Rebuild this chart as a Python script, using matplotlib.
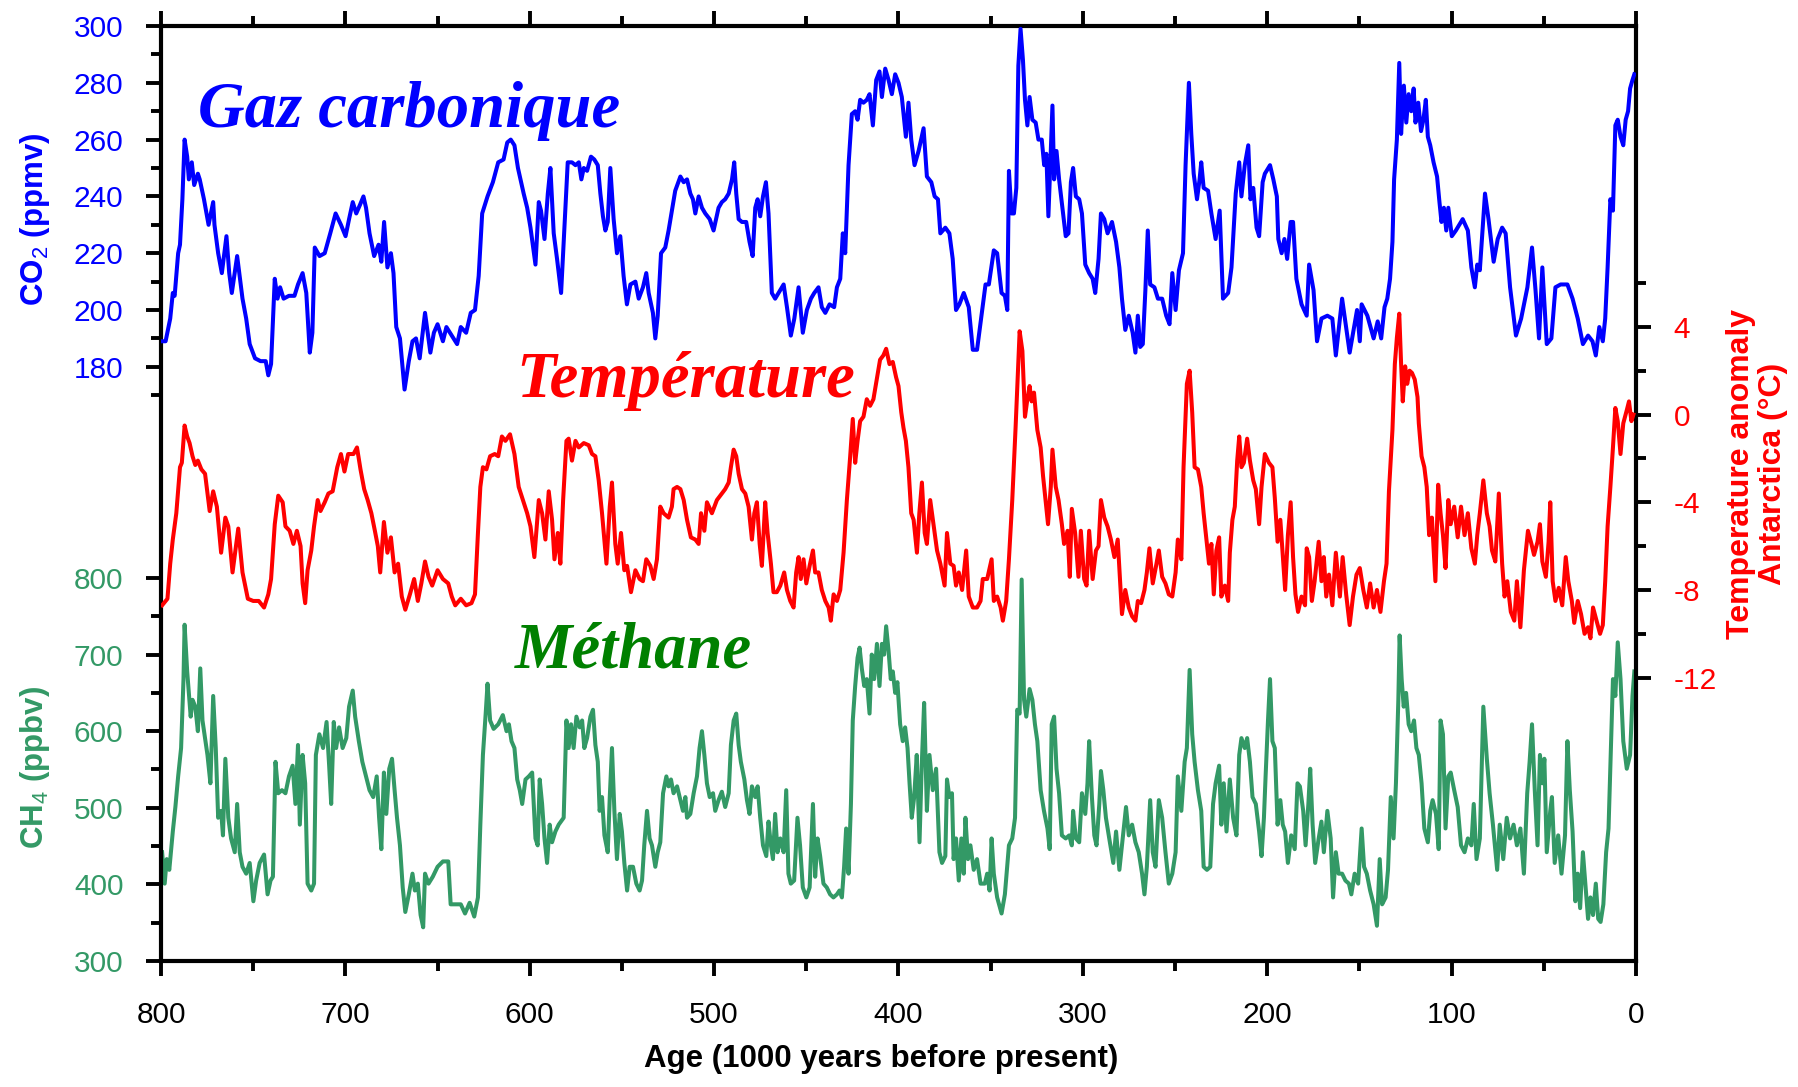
import numpy as np
import matplotlib
matplotlib.use("Agg")
import matplotlib.pyplot as plt
from matplotlib.ticker import FixedLocator

plt.rcParams['font.family'] = ['Liberation Sans', 'DejaVu Sans']
plt.rcParams['mathtext.fontset'] = 'custom'
plt.rcParams['mathtext.rm'] = 'Liberation Sans'
plt.rcParams['mathtext.bf'] = 'Liberation Sans:bold'
plt.rcParams['axes.unicode_minus'] = False

# (age in kyr BP, CO2 ppmv)
co2 = [
    (799.4, 189), (797.5, 189), (795, 197), (793.6, 206), (792.6, 205), (790.7, 220), (789.7, 223), (788.4, 239),
    (787.2, 260), (785.8, 254), (784.9, 246), (783.3, 252), (782, 244), (780, 248), (779, 246), (776.7, 239),
    (774.2, 230), (771.7, 238), (771, 230), (769, 220), (767, 213), (764.5, 226), (763, 213), (761.6, 206),
    (758.7, 219), (755.8, 204), (753.8, 197), (751.9, 188), (749, 183), (746, 182), (743.2, 182), (741.8, 177),
    (740.3, 181), (738.3, 211), (736.8, 204), (735.4, 208), (733.5, 204), (730.6, 205), (727.6, 205), (725.7, 209),
    (723.2, 213), (721.2, 206), (719.3, 185), (717.9, 192), (716.6, 222), (714, 219), (711.2, 220), (708.2, 227),
    (705.3, 234), (702.4, 230), (699.9, 226), (698, 232), (696, 238), (694.1, 234), (692.1, 237), (690.2, 240),
    (688.8, 236), (686.9, 227), (684.4, 219), (682, 223), (680.5, 217), (679, 231), (677.2, 215), (675.3, 220),
    (673.9, 213), (672.4, 194), (670.4, 190), (667.9, 172), (665.6, 182), (663.6, 189), (661.7, 190), (659.7, 183),
    (656.8, 199), (653.9, 185), (652, 192), (650, 195), (647.1, 189), (645.2, 194), (642.3, 191), (639.4, 188),
    (637.4, 194), (634.5, 192), (632, 199), (629.7, 200), (627.7, 212), (625.8, 234), (622.9, 240), (620, 245),
    (617.1, 252), (614.2, 253), (612.2, 259), (610.3, 260), (608.3, 258), (606.4, 250), (603.3, 241), (601.4, 236),
    (599.6, 229), (596.9, 216), (595.1, 238), (593.9, 235), (592, 225), (590.2, 241), (588.8, 250), (587, 227),
    (585.2, 218), (583, 206), (581.2, 229), (579.4, 252), (577.1, 252), (575.2, 251), (573.4, 252), (572, 246),
    (570.7, 250), (568.9, 249), (566.8, 254), (565, 253), (563.1, 251), (561.7, 241), (560.3, 233), (559, 228),
    (557.7, 231), (556.3, 250), (554.5, 232), (552.7, 220), (550.9, 226), (549.1, 212), (547.3, 202), (545.4, 209),
    (542.7, 210), (540.9, 204), (538.6, 208), (536.8, 213), (535.5, 206), (533.2, 199), (531.9, 190), (530.6, 198),
    (528.8, 220), (526.5, 222), (524.7, 228), (522.9, 235), (521.1, 242), (518.3, 247), (516.5, 245), (514.7, 246),
    (512.9, 241), (511.5, 239), (510.2, 234), (508.4, 240), (506.6, 236), (504.8, 234), (502.4, 232), (500.3, 228),
    (497.6, 236), (495.8, 238), (494, 239), (492.1, 241), (490.3, 246), (489.1, 252), (488, 241), (486.7, 232),
    (484.9, 231), (482.6, 231), (480.8, 224), (479.1, 219), (477.7, 236), (476.4, 239), (475, 233), (473.5, 240),
    (471.9, 245), (470.5, 234), (468.7, 206), (466.9, 204), (464.1, 207), (462.3, 209), (460.5, 201), (458.4, 191),
    (456.5, 197), (454.2, 208), (451.9, 192), (449.7, 200), (447.5, 204), (445.7, 206), (443.4, 208), (441.6, 201),
    (439.7, 199), (437.4, 202), (434.9, 201), (433.4, 208), (431.6, 211), (430.2, 227), (428.9, 220), (427.1, 251),
    (425.3, 269), (423.5, 270), (422.2, 267), (420.8, 274), (419, 273), (417.2, 274), (415.7, 276), (413.9, 265),
    (412.1, 281), (410.3, 284), (409, 275), (407.2, 285), (405.4, 281), (403.6, 276), (401.8, 283), (400, 280),
    (398.2, 275), (396, 261), (394.6, 273), (393.1, 260), (391.3, 251), (389.1, 256), (386.4, 264), (384.6, 247),
    (382.2, 245), (380.4, 240), (378.6, 239), (377.3, 227), (374.6, 229), (372.4, 227), (370.6, 218), (368.8, 200),
    (367, 202), (364.6, 206), (361.9, 201), (359.7, 186), (357.4, 186), (355, 198), (352.8, 209), (351, 209),
    (348.3, 221), (346.5, 220), (344.1, 206), (342.3, 205), (341, 200), (340.1, 249), (338.7, 234), (337.4, 234),
    (336.1, 243), (335, 286), (333.8, 299), (332.5, 288), (331.4, 274), (330.1, 265), (328.9, 275), (327.4, 267),
    (325.6, 266), (324.1, 260), (322.3, 260), (321, 251), (319.8, 255), (318.7, 233), (317.4, 256), (316.5, 272),
    (315.6, 246), (314.3, 256), (312.9, 246), (311.1, 236), (309.3, 226), (307.8, 227), (306.5, 245), (305.3, 250),
    (303.8, 240), (302, 239), (300.5, 234), (298.7, 216), (296.6, 213), (294.7, 211), (293.3, 206), (291.5, 218),
    (290.2, 234), (288.4, 232), (286.6, 227), (284.2, 231), (282, 224), (280.2, 215), (278.8, 204), (277, 193),
    (275.1, 198), (273, 192), (271.5, 185), (270.2, 198), (268.9, 187), (267.5, 188), (266.1, 207), (264.8, 228),
    (263.5, 209), (261.2, 208), (259.3, 204), (257, 204), (254.8, 198), (253, 195), (251.5, 213), (249.7, 200),
    (247.9, 214), (245.7, 220), (244.3, 251), (242.5, 280), (241.2, 262), (239.9, 248), (238.1, 239), (236.7, 246),
    (235.8, 252), (234.5, 243), (232.1, 242), (230.3, 234), (228, 225), (225.8, 235), (224, 204), (221.2, 206),
    (219.4, 215), (217.1, 241), (215.2, 252), (214, 240), (212.2, 251), (210.3, 258), (209.1, 239), (207.6, 243),
    (205.8, 229), (204.4, 226), (202.5, 245), (201.3, 248), (198.5, 251), (196.7, 246), (194.8, 240), (194, 225),
    (192.2, 220), (190.7, 225), (189.2, 218), (187.3, 231), (186, 231), (184.2, 211), (181.4, 202), (178.6, 198),
    (177.3, 216), (174.9, 207), (173, 189), (170.6, 197), (167.4, 198), (164.7, 197), (162.8, 184), (159.4, 204),
    (155.3, 185), (151.3, 200), (149.8, 189), (148.8, 202), (145.7, 198), (142.3, 190), (140.1, 196), (138.2, 190),
    (136.4, 201), (134.9, 204), (133.4, 211), (132.1, 224), (131.2, 246), (129.7, 260), (128.4, 287), (127.4, 262),
    (125.9, 279), (124.6, 266), (123.3, 276), (121.9, 270), (120.6, 278), (119.6, 266), (118.1, 273), (116.6, 263),
    (115.3, 267), (114, 274), (112.9, 261), (111.6, 258), (109.8, 252), (107.9, 247), (106.6, 238), (105.5, 231),
    (104.2, 236), (102.9, 228), (101.8, 236), (99.9, 226), (97.7, 228), (94, 232), (91.2, 228), (89.3, 215),
    (87.4, 208), (86.1, 216), (84.7, 214), (81.9, 241), (80, 232), (77.2, 217), (75, 225), (72.6, 229),
    (70.7, 227), (68.3, 208), (65.1, 191), (62.3, 197), (58.9, 208), (56.4, 222), (54.5, 207), (52.6, 190),
    (50.8, 215), (48.4, 188), (45.9, 190), (43.7, 208), (40.9, 209), (37.2, 209), (34.4, 204), (31.6, 197),
    (28.8, 188), (26, 191), (23.6, 189), (21.8, 184), (19.9, 194), (18, 189), (16.7, 197), (15.4, 215),
    (13.9, 239), (12.5, 235), (11.2, 265), (9.9, 267), (8.4, 261), (6.9, 258), (5.6, 267), (4.3, 270),
    (3.2, 278), (1.9, 281), (0.9, 283),
]

# (age in kyr BP, temperature anomaly in degC)
temp = [
    (799.4, -8.7), (796.5, -8.4), (795, -6.8), (793.6, -5.7), (791.7, -4.5), (789.7, -2.4), (788.7, -2.2), (787.2, -0.5),
    (785.8, -1.0), (784.5, -1.3), (782.9, -1.9), (781.4, -2.3), (780, -2.1), (778.1, -2.5), (776.1, -2.7), (773.6, -4.4),
    (771.7, -3.5), (769.7, -4.2), (767.4, -6.3), (765.1, -4.7), (763.5, -5.1), (761.2, -7.2), (758.1, -5.2), (755.8, -7.2),
    (752.9, -8.4), (750, -8.5), (747, -8.5), (744.1, -8.8), (741.8, -8.2), (740.3, -7.5), (738.3, -5.0), (736.4, -3.7),
    (734, -4.0), (732.5, -5.1), (730.2, -5.3), (728.2, -5.9), (726.3, -5.3), (724.3, -6.0), (723.2, -7.7), (721.8, -8.6),
    (720.5, -7.1), (718.5, -6.2), (717, -5.1), (715, -3.9), (713.5, -4.4), (711.2, -4.0), (709.2, -3.6), (706.9, -3.5),
    (704.4, -2.4), (702.4, -1.8), (700.5, -2.6), (698.5, -1.8), (695.6, -1.8), (693.7, -1.5), (691.8, -2.5), (689.8, -3.4),
    (687.9, -3.9), (685.9, -4.5), (684, -5.3), (682.4, -6.0), (681.1, -7.2), (679.1, -4.9), (677.2, -6.3), (675.3, -5.6),
    (673.3, -7.2), (671.4, -6.8), (669.4, -8.3), (667.5, -8.9), (665, -8.2), (662.7, -7.5), (660.7, -8.5), (658.8, -7.7),
    (656.8, -6.7), (654.9, -7.4), (652.9, -7.8), (650, -7.1), (647.1, -7.5), (644.2, -7.7), (642.3, -8.3), (640.4, -8.7),
    (637.4, -8.4), (634.5, -8.7), (631.6, -8.6), (629.7, -8.2), (628.1, -5.4), (626.8, -3.3), (625.4, -2.4), (623.5, -2.5),
    (621.5, -1.9), (619, -1.8), (617.1, -1.9), (615.1, -1.0), (613.2, -1.2), (610.7, -0.9), (608.3, -1.8), (606, -3.3),
    (603.3, -4.0), (601.4, -4.5), (599.6, -5.1), (597.5, -6.5), (595.1, -3.9), (593.3, -4.5), (591.5, -5.7), (589.7, -3.5),
    (587.9, -4.8), (586.6, -6.6), (584.8, -5.4), (583.4, -6.8), (581.9, -3.9), (580.1, -1.2), (578.9, -1.1), (577.1, -2.1),
    (575.2, -1.2), (573.4, -1.5), (570.7, -1.3), (568, -1.4), (566.2, -1.8), (564.4, -1.9), (562.6, -3.0), (560.8, -4.5),
    (558.4, -6.8), (556.6, -4.2), (555.4, -3.1), (553.6, -5.9), (552.3, -6.8), (550.5, -5.4), (548.7, -7.1), (547.2, -6.9),
    (545.1, -8.1), (542.7, -7.1), (540.4, -7.5), (538.6, -7.6), (536.8, -6.6), (534.6, -6.9), (532.8, -7.5), (531, -6.6),
    (529.2, -4.2), (527.4, -4.5), (524.7, -4.7), (522.9, -4.2), (522, -3.4), (520.1, -3.3), (518.3, -3.4), (516.5, -3.9),
    (514.7, -4.8), (512.6, -5.6), (510.2, -5.7), (508.4, -5.9), (507.1, -4.5), (505.3, -5.3), (503.9, -4.0), (501.2, -4.5),
    (498.5, -3.9), (495.8, -3.6), (494, -3.4), (492.1, -3.1), (490.9, -2.4), (489.4, -1.6), (488, -1.9), (486.7, -2.7),
    (484.9, -3.4), (483.1, -3.6), (481.3, -4.2), (479.5, -5.7), (478.2, -4.5), (476.8, -4.0), (475.3, -5.9), (474.1, -6.9),
    (472.3, -4.0), (471, -5.4), (469.2, -6.8), (467.8, -8.1), (466, -8.1), (464.1, -7.8), (462, -7.2), (460.5, -8.0),
    (458.7, -8.5), (456.9, -8.8), (455.5, -7.2), (454.2, -6.5), (453, -7.5), (451.5, -6.6), (450, -7.7), (448.2, -6.9),
    (446.4, -6.2), (445.2, -7.2), (443.4, -7.2), (441.6, -8.0), (439.7, -8.5), (437.9, -8.8), (436.7, -9.4), (435.2, -8.2),
    (433.4, -8.5), (431.6, -8.0), (429.8, -6.3), (428, -3.9), (426.2, -1.9), (424.8, -0.2), (423.5, -2.2), (422.2, -1.2),
    (420.8, -0.3), (419, -0.1), (417.2, 0.7), (415.4, 0.4), (413.6, 0.7), (411.8, 1.6), (410, 2.5), (408.2, 2.7),
    (406.7, 3.0), (404.9, 2.3), (403.1, 2.4), (401.3, 1.7), (400, 1.3), (398.5, 0.1), (397.3, -0.6), (396, -1.2),
    (394.6, -2.4), (393.1, -4.5), (391.8, -4.8), (390, -6.3), (388.7, -4.5), (387.3, -3.1), (385.8, -5.4), (384.6, -5.9),
    (382.8, -3.9), (380.9, -5.1), (379.1, -6.2), (377.3, -6.8), (375, -7.8), (373.7, -5.4), (371.9, -6.8), (370.1, -6.9),
    (368.8, -7.8), (367.3, -7.2), (365.5, -8.0), (363.3, -6.2), (361.9, -8.3), (359.7, -8.8), (357.4, -8.8), (355.5, -8.5),
    (354.3, -7.5), (351.9, -7.5), (349.5, -6.6), (348.3, -8.5), (346.5, -8.3), (344.6, -8.8), (343.4, -9.4), (341.6, -8.5),
    (340.1, -6.6), (338.3, -3.9), (336.5, -0.6), (334.3, 3.8), (332.8, 2.9), (331.4, -0.1), (330.1, 0.7), (328.9, 1.3),
    (327.8, 0.6), (326.5, 1.0), (324.7, -0.7), (322.9, -1.5), (321.6, -2.8), (320.1, -4.0), (318.9, -5.0), (317.4, -3.3),
    (316.5, -1.6), (314.7, -3.3), (313.2, -3.9), (311.4, -5.0), (310.2, -5.9), (308.3, -5.3), (307.1, -7.4), (306, -4.3),
    (304.2, -5.4), (302.4, -7.4), (301.1, -5.3), (299.3, -7.5), (298, -7.8), (296.6, -5.3), (294.7, -7.5), (292.9, -6.2),
    (291.5, -6.0), (290.2, -3.9), (288.4, -4.7), (286.6, -5.1), (284.8, -5.7), (282.9, -6.5), (281.1, -5.7), (279.9, -7.5),
    (278.8, -9.1), (277, -8.0), (275.1, -8.8), (273.3, -9.2), (271.5, -9.4), (270.2, -8.5), (268.4, -8.6), (266.6, -8.0),
    (265.3, -7.2), (263.9, -6.1), (262.1, -7.7), (260.3, -6.9), (258.8, -6.2), (257, -7.4), (255.2, -7.7), (253.4, -8.2),
    (251.5, -8.3), (249.7, -7.2), (248.5, -5.7), (246.6, -6.6), (245.4, -2.4), (243.6, 1.4), (242.1, 2.0), (240.7, 0.1),
    (239.4, -2.4), (237.6, -2.5), (235.8, -3.3), (234.5, -4.5), (233, -5.7), (231.6, -6.8), (230.3, -5.9), (229, -8.2),
    (227.6, -6.2), (226.1, -5.6), (224.9, -8.3), (223, -7.8), (221.2, -8.5), (220.3, -6.3), (218.9, -4.8), (217.6, -4.2),
    (216.3, -2.1), (215.2, -1.0), (214, -2.4), (212.7, -2.2), (210.9, -1.1), (209.4, -2.1), (207.6, -3.0), (206.2, -3.4),
    (204.4, -5.0), (203.1, -3.3), (201.3, -1.8), (199.1, -2.2), (197.2, -2.4), (195.9, -3.8), (194.4, -5.8), (192.9, -4.8),
    (191.6, -6.4), (190.3, -8.0), (188.8, -5.5), (187.3, -4.0), (186, -6.5), (184.7, -8.2), (183.3, -9.0), (181.4, -8.3),
    (179.5, -8.7), (178.6, -6.1), (177.3, -6.5), (175.8, -8.5), (174.3, -7.6), (172.1, -5.8), (170.6, -7.6), (169.3, -6.5),
    (168, -8.3), (166.5, -7.3), (164.7, -8.7), (162.8, -6.3), (160.6, -8.3), (159.1, -6.5), (157.2, -8.2), (155.3, -9.6),
    (153.5, -8.3), (151.6, -7.3), (149.8, -7.0), (147.9, -8.0), (146, -8.8), (144.2, -7.7), (142.3, -8.8), (140.5, -8.0),
    (138.6, -9.0), (136.7, -7.6), (135.3, -6.8), (134, -3.5), (132.1, -0.7), (130.8, 2.3), (129.7, 3.5), (128.4, 4.6),
    (127.4, 2.3), (126.5, 0.6), (125.2, 2.2), (124.1, 1.4), (122.8, 2.0), (121.5, 1.9), (120, 1.6), (118.5, 0.8),
    (117.8, -0.4), (116.3, -1.9), (114.8, -2.4), (113.5, -3.3), (112.2, -5.5), (110.7, -4.7), (108.8, -7.6), (107.3, -3.2),
    (106, -4.5), (104.7, -5.5), (103.3, -7.0), (101.8, -3.9), (100.5, -5.0), (98.6, -4.2), (96.7, -5.6), (94.9, -4.2),
    (93, -5.5), (91.2, -4.5), (89.3, -6.1), (87.4, -6.8), (86.1, -5.5), (84.7, -4.5), (82.8, -3.0), (80.9, -4.5),
    (79.4, -5.1), (78.1, -6.2), (76.3, -6.7), (74.4, -3.6), (72.6, -6.8), (71.3, -8.3), (69.8, -7.6), (67.9, -9.0),
    (66, -9.4), (64.6, -7.6), (62.7, -9.7), (60.8, -7.1), (58.6, -5.3), (56.7, -5.9), (55.3, -6.4), (53.4, -5.8),
    (52.1, -5.0), (50.8, -6.7), (48.9, -7.4), (47.4, -5.8), (46.5, -4.0), (45.2, -7.6), (43.7, -8.5), (41.9, -7.9),
    (40, -8.7), (38.1, -6.5), (36.7, -7.6), (34.8, -8.5), (33.5, -9.5), (31.6, -8.5), (29.8, -9.1), (27.9, -10.0),
    (26, -9.7), (24.7, -10.2), (23.3, -8.8), (21.4, -9.4), (19.5, -10.0), (18, -9.6), (16.7, -7.6), (15.4, -5.1),
    (13.9, -3.3), (12.5, -1.5), (11.2, 0.3), (9.9, -0.3), (8.4, -1.8), (6.9, -0.4), (5, 0.2), (3.8, 0.6),
    (2.5, -0.3), (1.4, 0.0),
]

# (age in kyr BP, CH4 ppbv)
ch4 = [
    (799.4, 442), (798, 401), (796.9, 433), (795.5, 419), (793.6, 469), (792.2, 501), (790.7, 541), (789.1, 578),
    (787.8, 668), (787.2, 739), (785.8, 678), (784.9, 650), (783.9, 619), (782.9, 641), (781.4, 632), (780, 600),
    (778.7, 682), (777.5, 614), (776.1, 591), (774.8, 569), (773.2, 532), (771.7, 646), (770.3, 578), (769, 487),
    (767.4, 496), (766.4, 464), (765.1, 564), (763.5, 487), (762, 460), (760, 442), (758.7, 505), (757.3, 442),
    (755.8, 423), (753.8, 414), (751.9, 428), (749.9, 378), (748.4, 405), (746.5, 428), (744.1, 439), (742.2, 387),
    (740.6, 405), (739.3, 410), (737.9, 560), (736.4, 519), (734.4, 523), (732.5, 519), (730.6, 541), (728.6, 555),
    (727.1, 505), (725.7, 582), (724.7, 478), (723.2, 569), (721.8, 532), (720.5, 401), (718.5, 392), (717, 401),
    (716, 569), (714.1, 596), (712.1, 578), (710.2, 612), (708.8, 555), (707.7, 505), (706.3, 612), (705, 578),
    (703.4, 605), (701.5, 578), (699.5, 591), (698, 632), (696, 653), (694.7, 619), (692.7, 587), (690.8, 560),
    (688.8, 541), (686.9, 523), (684.9, 514), (683, 541), (681.7, 487), (680.5, 446), (679.1, 546), (677.8, 492),
    (676.2, 551), (674.7, 564), (673.3, 523), (672, 487), (670.4, 451), (668.9, 396), (667.5, 364), (665.6, 387),
    (663.6, 414), (662.3, 392), (660.7, 401), (659.2, 360), (657.8, 344), (656.8, 414), (654.9, 401), (652.6, 410),
    (650, 423), (647.1, 430), (644.2, 430), (642.9, 374), (640.4, 374), (637.4, 374), (635.1, 362), (632.6, 376),
    (630.1, 358), (628.1, 383), (626.8, 478), (625.4, 569), (623.9, 623), (622.9, 662), (621.5, 614), (619.6, 603),
    (617.1, 609), (614.6, 621), (612.6, 600), (611.3, 609), (609.9, 587), (608.3, 578), (606.8, 537), (605.4, 523),
    (604.1, 505), (602.3, 537), (600.5, 541), (598.7, 546), (596.9, 460), (595.7, 451), (594.6, 537), (593.3, 505),
    (592, 460), (590.6, 428), (589.2, 478), (587.9, 455), (586.1, 469), (584.3, 478), (581.6, 487), (580.1, 614),
    (578.9, 578), (577.6, 609), (576.2, 578), (574.7, 619), (572.9, 605), (571.6, 614), (570.4, 578), (568.9, 591),
    (567.1, 619), (565.7, 628), (564.4, 582), (563.1, 560), (562.1, 496), (560.8, 514), (559.5, 464), (557.7, 442),
    (556.6, 514), (555.4, 578), (554.1, 496), (552.7, 433), (551.2, 492), (550, 469), (548.7, 428), (547.2, 392),
    (545.8, 423), (544, 423), (542.2, 401), (540.4, 392), (539.1, 405), (537.9, 451), (536.4, 496), (535, 460),
    (533.7, 451), (531.9, 423), (530.6, 442), (529.2, 455), (527.7, 519), (525.9, 541), (524.7, 528), (523.4, 537),
    (522, 519), (520.1, 528), (518.3, 510), (516.9, 496), (515.6, 514), (514.7, 487), (512.9, 492), (511.1, 519),
    (509.3, 541), (507.9, 578), (506.6, 600), (505.3, 569), (503.9, 532), (502.4, 514), (500.6, 519), (499.4, 496),
    (497.6, 510), (495.8, 521), (494, 501), (492.1, 519), (490.9, 582), (489.4, 614), (488, 623), (486.7, 582),
    (485.5, 560), (483.6, 537), (482.2, 510), (480.8, 492), (479.5, 528), (477.7, 514), (476.4, 528), (475, 487),
    (473.5, 451), (471.7, 437), (470.5, 482), (469.2, 451), (468.1, 433), (466.9, 492), (465.6, 442), (464.1, 460),
    (462.3, 442), (460.9, 523), (459.7, 414), (458.4, 401), (456.6, 405), (454.8, 487), (453.4, 451), (451.9, 396),
    (450, 383), (448.2, 396), (446.4, 505), (445.2, 410), (443.9, 460), (442.5, 437), (440.7, 401), (438.9, 396),
    (437.1, 387), (435.3, 383), (433.4, 387), (432, 392), (430.7, 383), (429.5, 423), (428.4, 473), (427.1, 414),
    (425.8, 505), (424.8, 614), (423.5, 659), (422.2, 696), (421.1, 709), (419.9, 682), (418.6, 659), (417.2, 668),
    (415.7, 623), (414.5, 700), (413.2, 668), (411.7, 714), (410.3, 659), (409, 714), (407.8, 700), (406.7, 737),
    (405.4, 705), (404.2, 668), (403.1, 678), (401.8, 650), (400.6, 664), (399.1, 609), (397.7, 587), (396.4, 605),
    (395.1, 578), (394, 532), (392.8, 487), (391.5, 514), (390.1, 569), (388.6, 455), (387.4, 555), (386.1, 637),
    (384.6, 496), (383.2, 569), (381.4, 523), (379.6, 551), (377.8, 442), (376.4, 428), (374.6, 437), (373.7, 537),
    (372.4, 514), (371, 519), (370.1, 433), (368.8, 460), (367.3, 405), (365.9, 460), (364.6, 414), (363.7, 487),
    (362.3, 433), (361, 451), (359.2, 419), (357.4, 433), (355.5, 401), (353.2, 401), (351.9, 414), (350.6, 392),
    (349.5, 460), (348.3, 414), (346.5, 383), (344.1, 362), (342.3, 387), (340.1, 451), (338.3, 460), (336.8, 487),
    (335.6, 628), (334.3, 623), (333.2, 798), (331.9, 641), (330.7, 619), (328.9, 655), (327.4, 641), (326, 609),
    (324.7, 587), (322.9, 523), (321.1, 496), (319.2, 473), (318, 446), (316.9, 609), (315.6, 619), (314.3, 551),
    (312.9, 519), (311.4, 464), (309.3, 460), (307.4, 464), (306, 451), (305.3, 496), (303.8, 460), (302, 455),
    (300.5, 519), (298.7, 492), (297.5, 532), (296.6, 587), (295.1, 514), (293.8, 464), (292.6, 451), (291.1, 505),
    (290.2, 548), (288.9, 523), (287.5, 487), (285.7, 460), (283.5, 428), (282, 469), (280.2, 419), (278.4, 460),
    (276.6, 501), (275.1, 464), (273.3, 478), (271.5, 455), (269.7, 442), (267.9, 414), (266.6, 387), (265.3, 423),
    (263.5, 510), (262.1, 442), (260.6, 423), (258.8, 510), (257, 487), (255.2, 442), (253.4, 401), (251.5, 414),
    (249.7, 442), (248.5, 541), (246.6, 496), (244.8, 560), (243.6, 578), (242.1, 680), (240.7, 596), (239.4, 560),
    (237.6, 523), (235.8, 496), (234.5, 423), (232.7, 419), (230.9, 423), (229.4, 505), (228, 532), (226.1, 555),
    (224.9, 478), (223.6, 532), (222.1, 469), (220.3, 537), (218.5, 487), (216.7, 464), (215.2, 569), (214, 591),
    (212.2, 578), (210.9, 591), (209.4, 560), (208, 514), (206.2, 505), (204.4, 469), (203.1, 437), (201.8, 487),
    (200.9, 541), (199.6, 614), (198.5, 668), (197.2, 587), (195.9, 578), (194.4, 478), (192.9, 510), (191.6, 478),
    (190.3, 469), (188.8, 428), (187, 464), (185.1, 446), (183.6, 532), (182.3, 528), (180.5, 496), (179.2, 451),
    (177.7, 505), (176.7, 551), (175.4, 478), (174, 428), (172.1, 460), (170.6, 482), (169.3, 442), (167.4, 496),
    (165.6, 460), (164.3, 383), (162.8, 442), (161.3, 414), (159.4, 414), (157.6, 405), (155.7, 401), (154.4, 387),
    (152.6, 414), (150.7, 401), (148.8, 473), (147.5, 423), (146, 414), (144.2, 392), (142.3, 374), (140.5, 346),
    (139, 433), (137.7, 374), (135.8, 383), (134.5, 419), (133, 514), (131.5, 460), (130.2, 532), (128.9, 641),
    (128.2, 725), (127.1, 668), (126, 632), (124.7, 650), (123.3, 609), (121.9, 600), (120.4, 614), (119.1, 578),
    (117.8, 569), (116.3, 532), (114.8, 473), (112.9, 455), (111.6, 496), (110.3, 510), (108.5, 492), (107, 446),
    (106, 614), (104.7, 596), (103.3, 473), (101.8, 541), (100.5, 546), (98.6, 523), (96.7, 501), (94.9, 451),
    (93, 442), (91.2, 460), (89.3, 451), (88, 505), (86.5, 433), (84.7, 460), (82.8, 632), (80.9, 564),
    (79.4, 519), (77.6, 478), (75.3, 419), (73.9, 478), (72, 433), (70.1, 487), (68.3, 460), (66.4, 478),
    (64.6, 451), (62.7, 473), (60.8, 414), (59, 519), (57.7, 560), (56.4, 609), (54.9, 523), (53.4, 451),
    (52.1, 569), (50.8, 532), (49.7, 564), (48.4, 442), (46.5, 496), (45.6, 514), (44.1, 428), (42.2, 464),
    (40.4, 414), (38.5, 464), (37.2, 587), (35.9, 523), (34.4, 469), (32.9, 378), (31.6, 414), (30.3, 369),
    (28.8, 442), (27.3, 396), (26, 355), (24.7, 383), (23.3, 360), (21.8, 401), (20.5, 355), (19.2, 351),
    (17.7, 374), (16.2, 442), (14.9, 473), (13.6, 578), (12.5, 668), (11.2, 646), (9.9, 716), (8.4, 668),
    (6.9, 587), (5, 551), (3.2, 569), (1.9, 646), (0.9, 678),
]

co2_ticks = [180, 200, 220, 240, 260, 280, 300]
ch4_ticks = [300, 400, 500, 600, 700, 800]
temp_ticks = [-12, -8, -4, 0, 4]
age_ticks = [800, 700, 600, 500, 400, 300, 200, 100, 0]

blue = '#0000FF'
red = '#FF0000'
green = '#339966'

W, H = 1798, 1087
fig = plt.figure(figsize=(W / 100, H / 100), dpi=100)
x0, x1, y0, y1 = 161, 1636, 26, 961   # axes box in pixels (from top)
rect = [x0 / W, 1 - y1 / H, (x1 - x0) / W, (y1 - y0) / H]

ax = fig.add_axes(rect)                # methane, left
ax_c = fig.add_axes(rect, sharex=ax)   # CO2, left
ax_c.patch.set_visible(False)
ax_t = ax.twinx()                      # temperature, right

lw = 2.9
a, v = np.array(ch4).T
ax.plot(a, v, color=green, lw=lw)
a, v = np.array(co2).T
ax_c.plot(a, v, color=blue, lw=lw)
a, v = np.array(temp).T
ax_t.plot(a, v, color=red, lw=lw)

ax.set_xlim(800, 0)
ax.set_ylim(300, 1520.6)
ax_c.set_ylim(-29.2, 300)
ax_t.set_ylim(-24.92, 17.72)

major_len, minor_len, tw = 11, 7, 2.8
tsize = 21.5
for s in ax.spines.values():
    s.set_linewidth(3)
for s in ax_c.spines.values():
    s.set_visible(False)
for s in ax_t.spines.values():
    s.set_visible(False)

# x axis: ticks on bottom and top
ax.xaxis.set_major_locator(FixedLocator(age_ticks))
ax.xaxis.set_minor_locator(FixedLocator([750, 650, 550, 450, 350, 250, 150, 50]))
ax.tick_params(axis='x', which='both', direction='out', top=True, bottom=True, width=tw,
               labelsize=tsize, pad=18)
ax.tick_params(axis='x', which='major', length=major_len)
ax.tick_params(axis='x', which='minor', length=minor_len)
ax_c.tick_params(axis='x', which='both', bottom=False, top=False, labelbottom=False)

# methane ticks
ax.yaxis.set_major_locator(FixedLocator(ch4_ticks))
ax.yaxis.set_minor_locator(FixedLocator([350, 450, 550, 650, 750]))
ax.tick_params(axis='y', which='both', direction='out', width=tw, labelsize=tsize,
               labelcolor=green, pad=16)
ax.tick_params(axis='y', which='major', length=major_len)
ax.tick_params(axis='y', which='minor', length=minor_len)

# CO2 ticks
ax_c.yaxis.set_major_locator(FixedLocator(co2_ticks))
ax_c.yaxis.set_minor_locator(FixedLocator([170, 190, 210, 230, 250, 270, 290]))
ax_c.tick_params(axis='y', which='both', direction='out', width=tw, labelsize=tsize,
                 labelcolor=blue, pad=16, left=True, right=False)
ax_c.tick_params(axis='y', which='major', length=major_len)
ax_c.tick_params(axis='y', which='minor', length=minor_len)

# temperature ticks
ax_t.yaxis.set_major_locator(FixedLocator(temp_ticks))
ax_t.yaxis.set_minor_locator(FixedLocator([-10, -6, -2, 2, 6]))
ax_t.tick_params(axis='y', which='both', direction='out', width=tw, labelsize=tsize,
                 labelcolor=red, pad=16)
ax_t.tick_params(axis='y', which='major', length=major_len)
ax_t.tick_params(axis='y', which='minor', length=minor_len)

def fx(px):
    return px / W

def fy(py):
    return 1 - py / H

lsize = 22.5
fig.text(fx(35), fy(219), r'CO$_2$ (ppmv)', rotation=90, ha='center', va='center',
         color=blue, fontsize=lsize, fontweight='bold')
fig.text(fx(35), fy(767), r'CH$_4$ (ppbv)', rotation=90, ha='center', va='center',
         color=green, fontsize=lsize, fontweight='bold')
fig.text(fx(1757), fy(474), 'Temperature anomaly\nAntarctica (°C)', rotation=90,
         ha='center', va='center', multialignment='center', color=red,
         fontsize=lsize + 0.5, fontweight='bold', linespacing=1.05)
fig.text(fx(881), fy(1059), 'Age (1000 years before present)', ha='center', va='center',
         fontsize=lsize, fontweight='bold')

serif = dict(family='Liberation Serif', style='italic', fontweight='bold', fontsize=46.5)
fig.text(fx(198), fy(127), 'Gaz carbonique', color=blue, ha='left', va='baseline', **serif)
fig.text(fx(516), fy(397), 'Température', color=red, ha='left', va='baseline', **serif)
fig.text(fx(515), fy(667), 'Méthane', color='#008000', ha='left', va='baseline', **serif)

fig.savefig('out.png', dpi=100)
